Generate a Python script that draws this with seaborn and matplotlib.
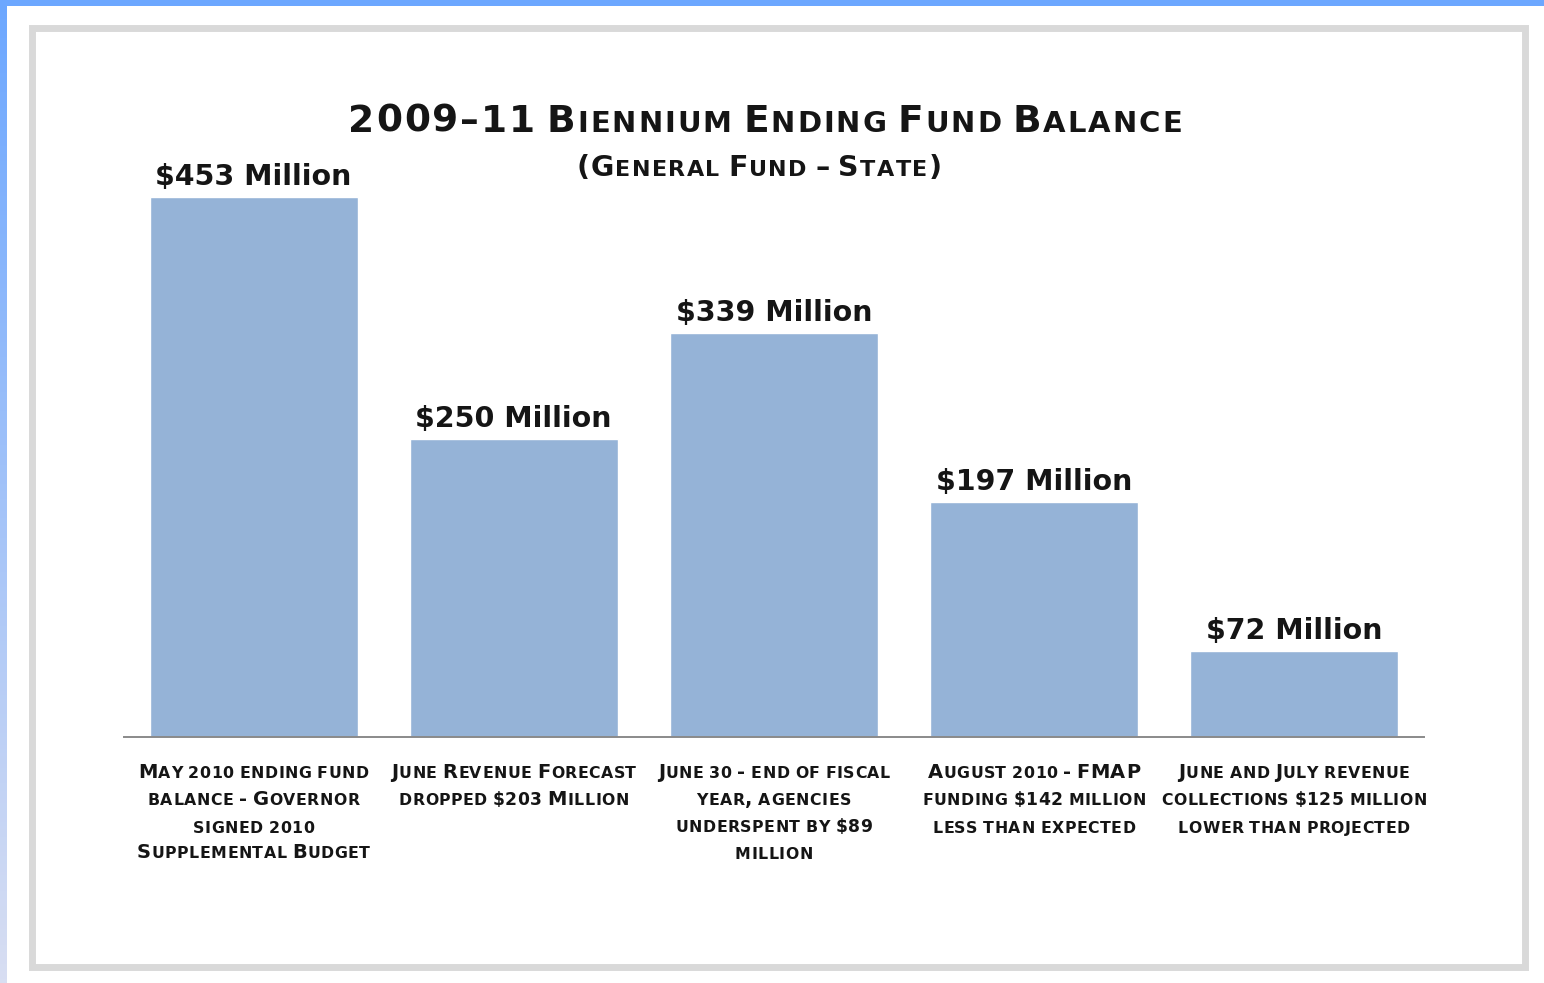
import numpy as np
import pandas as pd
import matplotlib
matplotlib.use("Agg")
import matplotlib.pyplot as plt
import seaborn as sns
from matplotlib.patches import Rectangle
from matplotlib.offsetbox import TextArea, HPacker, AnnotationBbox

# ---- data -------------------------------------------------------------
categories = ["May 2010", "June forecast", "June 30", "August 2010", "June-July"]
balance_musd = [453, 250, 339, 197, 72]
category_labels = [
    ["May 2010 ending fund", "balance - Governor", "signed 2010", "Supplemental Budget"],
    ["June Revenue Forecast", "dropped $203 Million"],
    ["June 30 - end of fiscal", "year, agencies", "underspent by $89", "million"],
    ["August 2010 - FMAP", "funding $142 million", "less than expected"],
    ["June and July revenue", "collections $125 million", "lower than projected"],
]
title_text = "2009–11 Biennium Ending Fund Balance"
subtitle_text = "(General Fund – State)"

# ---- styling ----------------------------------------------------------
W, H, DPI = 1544, 983, 100
FONTS = ["DejaVu Sans"]
INK = "#151515"
BAR = "#95b3d7"

sns.set_theme(style="white")
plt.rcParams["font.family"] = FONTS

fig = plt.figure(figsize=(W / DPI, H / DPI), dpi=DPI)
fig.patch.set_facecolor("white")


def px_rect(x0, y0, x1, y1):
    """Pixel box (top-left origin) -> figure fraction [l, b, w, h]."""
    return [x0 / W, 1 - y1 / H, (x1 - x0) / W, (y1 - y0) / H]


# blue page edges
grad_ax = fig.add_axes(px_rect(0, 0, 7, H))
top_col = np.array([0x6c, 0xa7, 0xff]) / 255
bot_col = np.array([0xd8, 0xde, 0xf2]) / 255
t = np.linspace(0, 1, 256)[:, None, None]
grad_ax.imshow(top_col * (1 - t) + bot_col * t, aspect="auto")
grad_ax.set_axis_off()
fig.add_artist(Rectangle((0, 1 - 6 / H), 1, 6 / H, transform=fig.transFigure,
                         facecolor="#6ca7ff", edgecolor="none"))

# light grey frame
fx0, fy0, fx1, fy1 = 32, 27.5, 1524.5, 966.5
fig.add_artist(Rectangle((fx0 / W, 1 - fy1 / H), (fx1 - fx0) / W, (fy1 - fy0) / H,
                         transform=fig.transFigure, facecolor="none",
                         edgecolor="#d9d9d9", linewidth=5.0))

# ---- bars ---------------------------------------------------------------
px_per_unit = 1.192
base_y, top_y = 737, 100
ax = fig.add_axes(px_rect(123.5, top_y, 1424, base_y))
df = pd.DataFrame({"category": categories, "balance": balance_musd})
sns.barplot(data=df, x="category", y="balance", color=BAR, saturation=1,
            width=0.8, ax=ax)
ax.set_xlim(-0.5, len(categories) - 0.5)
ax.set_ylim(0, (base_y - top_y) / px_per_unit)
ax.set_facecolor("none")
for side in ("left", "right", "top"):
    ax.spines[side].set_visible(False)
ax.spines["bottom"].set_color("#8a8a8a")
ax.spines["bottom"].set_linewidth(1.4)
ax.set_xticks([])
ax.set_yticks([])
ax.set_xlabel("")
ax.set_ylabel("")

for i, v in enumerate(balance_musd):
    ax.text(i, v + 10, f"${v} Million", ha="center", va="baseline",
            fontsize=20.5, fontweight="bold", color=INK, family=FONTS)


# ---- small-caps text built from pieces ----------------------------------
def small_caps_line(text, big, small, big_digits=False, money=None,
                    weight="bold", tracking=0.0):
    """Capitals at `big`, lower case as capitals at `small`; "$" amounts at `money`."""
    money = big if money is None else money
    words = []
    for word in text.split(" "):
        is_money = word.startswith("$")
        runs = []
        for ch in word:
            if is_money:
                size = money
            elif ch.isalpha():
                size = big if ch.isupper() else small
            elif ch.isdigit():
                size = big if big_digits else small
            else:
                size = big
            if tracking == 0 and runs and runs[-1][0] == size:
                runs[-1][1] += ch.upper()
            else:
                runs.append([size, ch.upper()])
        parts = [TextArea(s, textprops=dict(fontsize=size, fontweight=weight,
                                            color=INK, family=FONTS))
                 for size, s in runs]
        words.append(HPacker(children=parts, align="baseline", pad=0, sep=tracking))
    return HPacker(children=words, align="baseline", pad=0,
                   sep=small * 0.33 + tracking)


def place(box, x, y, xcoords, align, host):
    ab = AnnotationBbox(box, (x, y), xycoords=(xcoords, "figure pixels"),
                        box_alignment=align, frameon=False, pad=0,
                        annotation_clip=False)
    host.add_artist(ab)


# title and subtitle
place(small_caps_line(title_text, 27, 21, big_digits=True, tracking=1.4),
      765, H - 122, "figure pixels", (0.5, 0.5), fig)
place(small_caps_line(subtitle_text, 20.5, 16, big_digits=True, tracking=1.0),
      759, H - 168, "figure pixels", (0.5, 0.5), fig)

# category captions under each bar, one baseline every 27 px
first_bottom, line_step = 782, 26.8
for i, lines in enumerate(category_labels):
    for j, line in enumerate(lines):
        place(small_caps_line(line, 14, 11.3, money=12.3, tracking=0.35), i,
              H - (first_bottom + j * line_step), ax.transData, (0.5, 0.0), ax)

fig.savefig("out.png", dpi=DPI, facecolor="white")
